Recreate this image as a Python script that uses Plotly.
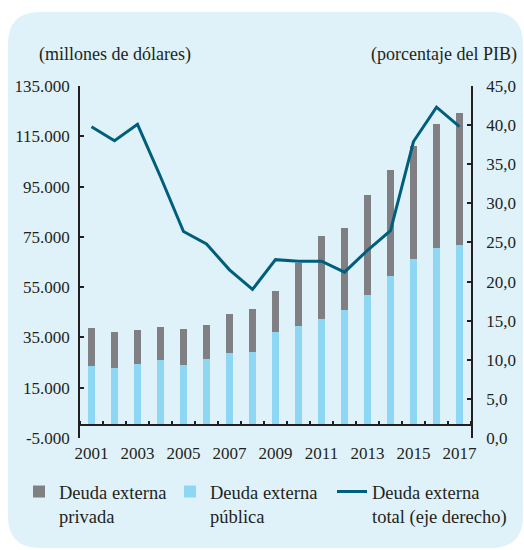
import plotly.graph_objects as go

years = list(range(2001, 2018))
publica = [23500, 22800, 24500, 25900, 24100, 26300, 28750, 29400, 37100, 39450,
           42300, 45900, 52000, 59500, 66000, 70700, 71600]
total_usd = [38900, 37200, 37900, 39300, 38400, 40000, 44300, 46200, 53600, 64700,
             75500, 78400, 91600, 101500, 111250, 120000, 124100]
privada = [t - p for t, p in zip(total_usd, publica)]
total_pib = [39.8, 38.0, 40.1, 33.4, 26.4, 24.8, 21.5, 19.0, 22.8, 22.6,
             22.6, 21.2, 24.0, 26.5, 37.9, 42.3, 39.8]

left_vals = [-5000, 15000, 35000, 55000, 75000, 95000, 115000, 135000]
left_text = ["-5.000", "15.000", "35.000", "55.000", "75.000", "95.000", "115.000", "135.000"]
right_vals = [0, 5, 10, 15, 20, 25, 30, 35, 40, 45]
right_text = ["0,0", "5,0", "10,0", "15,0", "20,0", "25,0", "30,0", "35,0", "40,0", "45,0"]
year_labels = [2001, 2003, 2005, 2007, 2009, 2011, 2013, 2015, 2017]

TXT = "#231f20"
FONT = "Liberation Serif, DejaVu Serif, serif"
GRAY = "#807f83"
BLUE = "#8dd6f4"
LINE = "#005e7d"
BG = "#dff2fa"

fig = go.Figure()
fig.add_trace(go.Bar(x=years, y=publica, name="Deuda externa<br>pública", marker_color=BLUE,
                     marker_line_width=0, width=0.34, legend="legend2"))
fig.add_trace(go.Bar(x=years, y=privada, name="Deuda externa<br>privada", marker_color=GRAY,
                     marker_line_width=0, width=0.34, legend="legend"))
fig.add_trace(go.Scatter(x=years, y=total_pib, name="Deuda externa<br>total (eje derecho)",
                         mode="lines", line=dict(color=LINE, width=3), yaxis="y2", legend="legend3"))

W, H = 524, 550
L, R, T, B = 80, 53, 86, 112
pw, ph = W - L - R, H - T - B

def px(x):
    return (x - L) / pw

def py(y):
    return (H - B - y) / ph

# rounded panel
x0, x1, y0, y1 = px(8), px(523), py(548), py(12)
rx, ry = 32 / pw, 32 / ph
path = (f"M {x0+rx},{y0} L {x1-rx},{y0} Q {x1},{y0} {x1},{y0+ry} L {x1},{y1-ry} "
        f"Q {x1},{y1} {x1-rx},{y1} L {x0+rx},{y1} Q {x0},{y1} {x0},{y1-ry} "
        f"L {x0},{y0+ry} Q {x0},{y0} {x0+rx},{y0} Z")
fig.add_shape(type="path", path=path, xref="paper", yref="paper", fillcolor=BG,
              line_width=0, layer="below")

tick_font = dict(family=FONT, size=17, color=TXT)
title_font = dict(family=FONT, size=18, color=TXT)

def leg(xpix):
    return dict(orientation="h", xref="container", yref="container",
                x=xpix / W, y=(H - 473) / H, xanchor="left", yanchor="top", valign="top",
                bgcolor="rgba(0,0,0,0)", font=dict(family=FONT, size=18.5, color=TXT), borderwidth=0)

fig.update_layout(
    width=W, height=H,
    margin=dict(l=L, r=R, t=T, b=B),
    paper_bgcolor="white", plot_bgcolor="rgba(0,0,0,0)",
    barmode="relative", bargap=0,
    font=tick_font,
    showlegend=True,
    xaxis=dict(range=[2000.5, 2017.5], tickvals=year_labels, ticktext=[str(y) for y in year_labels],
               ticks="", showline=True, linecolor=TXT, linewidth=1.5, automargin=False,
               anchor="free", position=5000 / 140000, showgrid=False, zeroline=False,
               ticklabelstandoff=12,
               minor=dict(tickvals=[y + 0.5 for y in range(2000, 2018)], ticks="inside",
                          ticklen=4, tickcolor=TXT, tickwidth=1.5, showgrid=False),
               tickfont=tick_font),
    yaxis=dict(range=[-5000, 135000], tickvals=left_vals, ticktext=left_text, automargin=False,
               ticks="inside", ticklen=4, tickwidth=1.5, tickcolor=TXT,
               showline=True, linecolor=TXT, linewidth=1.5, showgrid=False, zeroline=False,
               ticklabelstandoff=5, tickfont=tick_font),
    yaxis2=dict(range=[0, 45], tickvals=right_vals, ticktext=right_text, overlaying="y", side="right",
                ticks="inside", ticklen=4, tickwidth=1.5, tickcolor=TXT, automargin=False,
                showline=True, linecolor=TXT, linewidth=1.5, showgrid=False, zeroline=False,
                ticklabelstandoff=10, tickfont=tick_font),
    legend=leg(19),
    legend2=leg(170),
    legend3=leg(332),
    annotations=[
        dict(text="(millones de dólares)", x=px(37), y=py(55), xref="paper", yref="paper",
             xanchor="left", yanchor="middle", showarrow=False, font=title_font),
        dict(text="(porcentaje del PIB)", x=px(519), y=py(55), xref="paper", yref="paper",
             xanchor="right", yanchor="middle", showarrow=False, font=title_font),
    ],
)

fig.write_html("out.html", config={"displayModeBar": False},
               post_script="document.body.style.margin='0';")
